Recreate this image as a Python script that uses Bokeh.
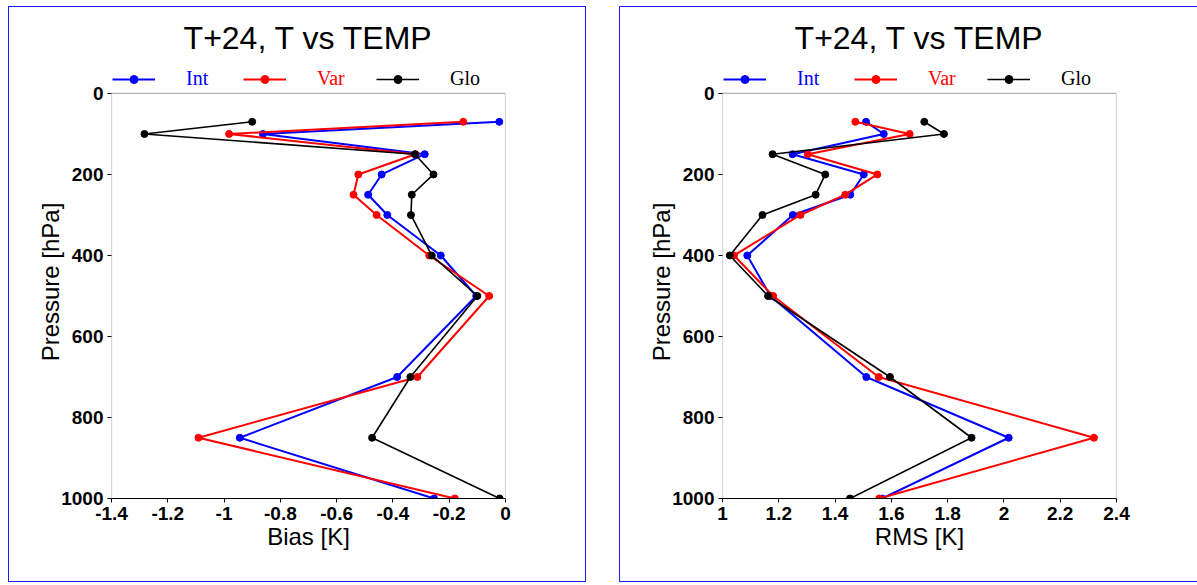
from bokeh.plotting import figure
from bokeh.layouts import row
from bokeh.models import Range1d, FixedTicker, Legend, LegendItem, BoxAnnotation
from bokeh.embed import file_html
from bokeh.resources import INLINE

# ---- data ----
pressure = [70, 100, 150, 200, 250, 300, 400, 500, 700, 850, 1000]

bias_int = [-0.022, -0.862, -0.287, -0.44, -0.488, -0.42, -0.23, -0.104, -0.385, -0.944, -0.254]
bias_var = [-0.15, -0.982, -0.32, -0.523, -0.54, -0.458, -0.271, -0.058, -0.313, -1.091, -0.18]
bias_glo = [-0.9, -1.283, -0.322, -0.256, -0.333, -0.336, -0.262, -0.1, -0.338, -0.474, -0.021]

rms_int = [1.51, 1.573, 1.249, 1.502, 1.454, 1.25, 1.088, 1.17, 1.511, 2.017, 1.567]
rms_var = [1.472, 1.665, 1.303, 1.55, 1.436, 1.277, 1.041, 1.18, 1.555, 2.32, 1.557]
rms_glo = [1.717, 1.787, 1.178, 1.365, 1.331, 1.142, 1.026, 1.162, 1.595, 1.885, 1.453]

series_names = ["Int", "Var", "Glo"]
series_colors = ["#0000ff", "#ff0000", "#000000"]

pressure_ticks = [0, 200, 400, 600, 800, 1000]
pressure_range = (0, 1000)
bias_ticks = [-1.4, -1.2, -1.0, -0.8, -0.6, -0.4, -0.2, 0.0]
bias_tick_labels = ["-1.4", "-1.2", "-1", "-0.8", "-0.6", "-0.4", "-0.2", "0"]
rms_ticks = [1.0, 1.2, 1.4, 1.6, 1.8, 2.0, 2.2, 2.4]
rms_tick_labels = ["1", "1.2", "1.4", "1.6", "1.8", "2", "2.2", "2.4"]

title_text = "T+24, T vs TEMP"

# headroom above the 0 hPa frame edge that holds the legend row
HEADROOM = 69


def make_panel(xdata, xrange, xticks, xlabels, xlabel, left_border, width):
    p = figure(width=width, height=576, output_backend="svg", toolbar_location=None,
               x_range=Range1d(*xrange),
               y_range=Range1d(pressure_range[1], pressure_range[0] - HEADROOM),
               min_border_left=left_border, min_border_right=width - left_border - 394,
               min_border_top=54, min_border_bottom=85)
    p.styles = {"border": "1px solid #1a1aff"}
    p.background_fill_color = "white"
    p.border_fill_color = "white"
    p.outline_line_color = None
    p.xgrid.visible = False
    p.ygrid.visible = False

    # visible plot box: from 0 to 1000 hPa over the x range
    p.add_layout(BoxAnnotation(left=xrange[0], right=xrange[1],
                               top=pressure_range[0], bottom=pressure_range[1],
                               fill_alpha=0, line_color="black", line_width=1.2,
                               level="overlay"))

    p.title.text = title_text
    p.title.align = "center"
    p.title.text_font = "Liberation Sans"
    p.title.text_font_size = "32px"
    p.title.text_font_style = "normal"
    p.title.text_color = "black"
    p.title.standoff = 20

    p.xaxis.ticker = FixedTicker(ticks=xticks)
    p.xaxis.major_label_overrides = {t: l for t, l in zip(xticks, xlabels)}
    p.yaxis.ticker = FixedTicker(ticks=pressure_ticks)
    p.xaxis.axis_label = xlabel
    p.yaxis.axis_label = "Pressure [hPa]"
    for ax in (p.xaxis, p.yaxis):
        ax.axis_label_text_font = "Liberation Sans"
        ax.axis_label_text_font_size = "24px"
        ax.axis_label_text_font_style = "normal"
        ax.axis_label_text_color = "black"
        ax.axis_label_standoff = 0
        ax.major_label_text_font = "Liberation Sans"
        ax.major_label_text_font_size = "19px"
        ax.major_label_text_font_style = "bold"
        ax.major_label_text_color = "black"
        ax.major_label_standoff = 4
        ax.major_tick_out = 4
        ax.major_tick_in = 0
        ax.minor_tick_out = 0
        ax.minor_tick_in = 0
        ax.major_tick_line_color = "black"
    p.xaxis.axis_line_color = "black"
    p.yaxis.axis_line_color = None
    p.yaxis.axis_label_standoff = -6

    legend_x = [1, 132, 265]
    for name, color, xs, lx in zip(series_names, series_colors, xdata, legend_x):
        lw = 1.6 if color == "#000000" else 2
        r1 = p.line(xs, pressure, line_color=color, line_width=lw)
        r2 = p.scatter(xs, pressure, size=7, fill_color=color, line_color=color)
        leg = Legend(items=[LegendItem(label=name, renderers=[r1, r2])],
                     location=(lx, 408), orientation="horizontal",
                     glyph_width=43, glyph_height=20, label_height=20,
                     label_standoff=31, label_text_font="Liberation Serif",
                     label_text_font_size="20px", label_text_color=color,
                     border_line_color=None, background_fill_alpha=0,
                     padding=0, margin=0, spacing=0)
        p.add_layout(leg, "center")
    return p


p1 = make_panel([bias_int, bias_var, bias_glo], (-1.4, 0.0), bias_ticks, bias_tick_labels,
                "Bias [K]", 102, 578)
p2 = make_panel([rms_int, rms_var, rms_glo], (1.0, 2.4), rms_ticks, rms_tick_labels,
                "RMS [K]", 102, 581)

layout = row(p1, p2, spacing=33)
layout.margin = (6, 0, 0, 8)

open("out.html", "w").write(file_html(layout, INLINE))
